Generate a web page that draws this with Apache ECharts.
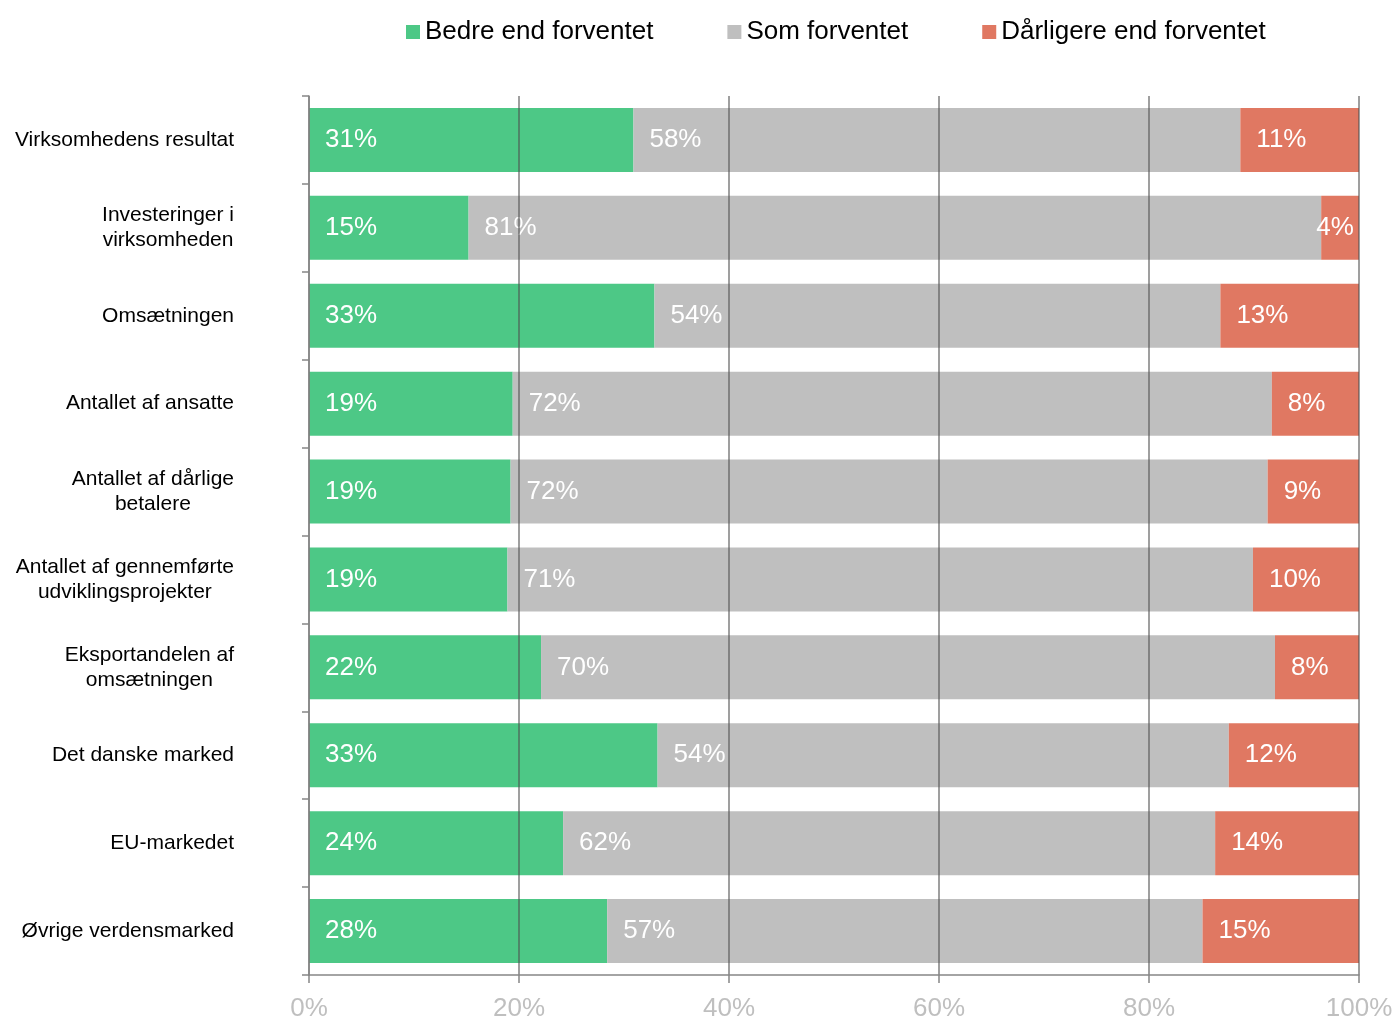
<!DOCTYPE html>
<html>
<head>
<meta charset="utf-8">
<script src="https://cdn.jsdelivr.net/npm/echarts@6/dist/echarts.min.js"></script>
<style>html,body{margin:0;padding:0;background:#fff}#c{width:1397px;height:1018px}</style>
</head>
<body>
<div id="c"></div>
<script>
const categories = [
  "Virksomhedens resultat",
  "Investeringer i\nvirksomheden",
  "Omsætningen",
  "Antallet af ansatte",
  "Antallet af dårlige\nbetalere",
  "Antallet af gennemførte\nudviklingsprojekter",
  "Eksportandelen af\nomsætningen",
  "Det danske marked",
  "EU-markedet",
  "Øvrige verdensmarked"
];
const seriesNames = ["Bedre end forventet", "Som forventet", "Dårligere end forventet"];
const better = [30.9, 15.2, 32.9, 19.4, 19.2, 18.9, 22.1, 33.2, 24.2, 28.4];
const asExpected = [57.8, 81.2, 53.9, 72.3, 72.1, 71.0, 69.9, 54.4, 62.1, 56.7];
const worse = [11.3, 3.6, 13.2, 8.3, 8.7, 10.1, 8.0, 12.4, 13.7, 14.9];
const xTicks = [0, 20, 40, 60, 80, 100];

const colors = ["#4DC886", "#BFBFBF", "#E07862"];
const FONT = "'Liberation Sans', Arial, sans-serif";

function mkSeries(name, vals, color) {
  return {
    name: name,
    type: 'bar',
    stack: 'total',
    barWidth: 64,
    itemStyle: { color: color },
    z: 2,
    label: {
      show: true,
      position: 'insideLeft',
      distance: 16,
      color: '#fff',
      fontSize: 26,
      fontFamily: FONT,
      formatter: p => Math.round(p.value) + '%'
    },
    data: vals.map(v => (v < 5 ? { value: v, label: { position: 'inside', offset: [-5, 0] } } : v))
  };
}

const chart = echarts.init(document.getElementById('c'));
chart.setOption({
  animation: false,
  textStyle: { fontFamily: FONT },
  color: colors,
  legend: {
    left: 401,
    top: 14,
    itemWidth: 14,
    itemHeight: 14,
    itemGap: 74,
    icon: 'rect',
    textStyle: { fontSize: 26, color: '#000', fontFamily: FONT },
    data: seriesNames
  },
  grid: { left: 309, right: 38, top: 96, bottom: 43, containLabel: false, outerBoundsMode: 'none' },
  xAxis: {
    type: 'value',
    min: xTicks[0],
    max: xTicks[xTicks.length - 1],
    interval: 20,
    z: 5,
    axisLine: { show: true, lineStyle: { color: '#868686', width: 1.5 } },
    axisTick: { show: true, length: 8, lineStyle: { color: '#868686', width: 1.5 } },
    splitLine: { show: true, lineStyle: { color: 'rgba(80,80,80,0.55)', width: 2 } },
    axisLabel: { fontSize: 26, color: '#BFBFBF', margin: 21, fontFamily: FONT, formatter: v => v + '%' }
  },
  yAxis: {
    type: 'category',
    inverse: true,
    data: categories,
    z: 5,
    axisLine: { show: true, lineStyle: { color: '#868686', width: 1.5 } },
    axisTick: { show: true, length: 7, lineStyle: { color: '#868686', width: 1.5 } },
    axisLabel: {
      margin: 75,
      fontSize: 21,
      color: '#000',
      fontFamily: FONT,
      lineHeight: 25,
      formatter: v => v.split('\n').map(l => '{c|' + l + '}').join('\n'),
      rich: { c: { align: 'center', fontSize: 21, lineHeight: 25, color: '#000', fontFamily: FONT } }
    }
  },
  series: [
    mkSeries(seriesNames[0], better, colors[0]),
    mkSeries(seriesNames[1], asExpected, colors[1]),
    mkSeries(seriesNames[2], worse, colors[2])
  ]
});
</script>
</body>
</html>
